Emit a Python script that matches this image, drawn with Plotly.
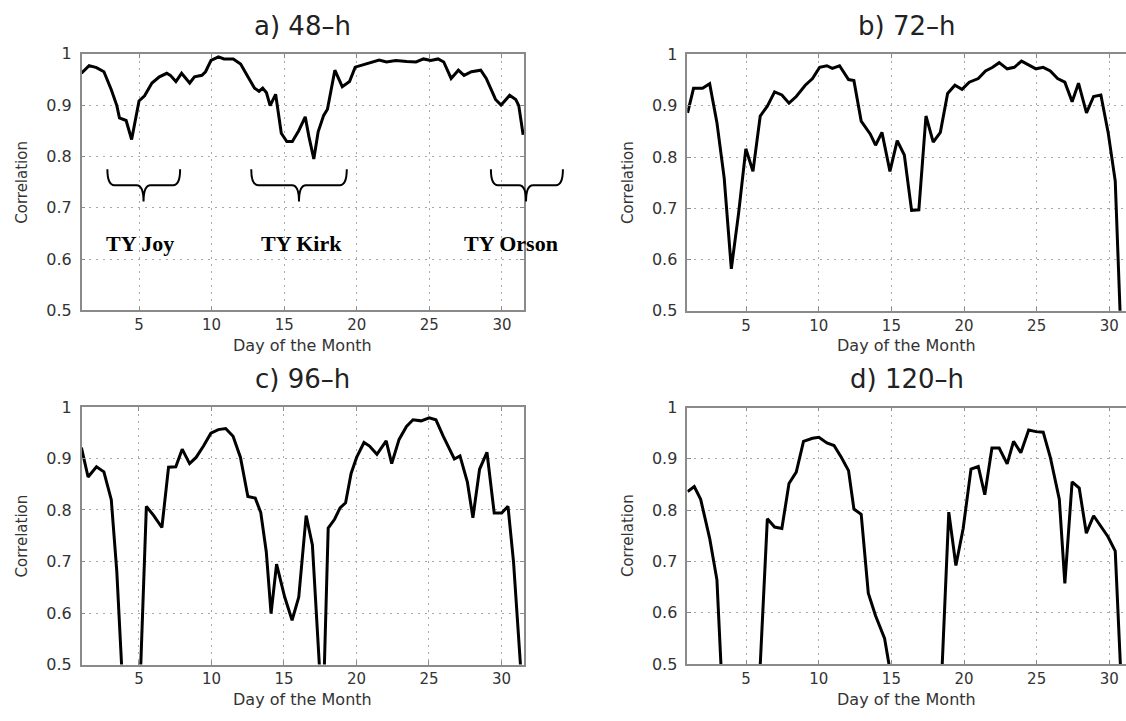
import plotly.graph_objects as go

W, H = 1126, 721

# ---------------- data ----------------
days_a = [1.03, 1.56, 2.07, 2.58, 3.09, 3.47, 3.65, 4.11, 4.49, 5.0, 5.38, 5.89, 6.4, 6.91, 7.16,
          7.54, 7.93, 8.49, 8.82, 9.33, 9.58, 9.96, 10.47, 10.85, 11.49, 12.0, 12.51, 12.96, 13.27,
          13.52, 13.78, 14.03, 14.41, 14.8, 15.18, 15.56, 16.0, 16.45, 16.7, 17.04, 17.34, 17.72,
          17.98, 18.49, 19.0, 19.5, 19.89, 20.52, 21.16, 21.54, 22.05, 22.69, 23.45, 24.08, 24.6,
          25.1, 25.6, 25.99, 26.5, 27.0, 27.39, 27.9, 28.54, 28.92, 29.56, 29.94, 30.19, 30.53,
          30.95, 31.16, 31.46]
corr_a = [0.962, 0.977, 0.973, 0.965, 0.930, 0.899, 0.875, 0.870, 0.833, 0.908, 0.918, 0.943, 0.955,
          0.962, 0.958, 0.946, 0.962, 0.943, 0.955, 0.958, 0.965, 0.987, 0.994, 0.990, 0.990, 0.980,
          0.955, 0.933, 0.927, 0.933, 0.924, 0.899, 0.921, 0.845, 0.829, 0.829, 0.850, 0.877, 0.839,
          0.795, 0.848, 0.880, 0.892, 0.968, 0.936, 0.946, 0.974, 0.979, 0.984, 0.988, 0.984, 0.987,
          0.985, 0.984, 0.990, 0.987, 0.990, 0.984, 0.952, 0.968, 0.958, 0.965, 0.968, 0.952, 0.911,
          0.900, 0.908, 0.919, 0.911, 0.899, 0.842]

days_b = [0.97, 1.38, 2.0, 2.49, 2.99, 3.49, 3.98, 4.48, 4.98, 5.47, 5.97, 6.46, 6.96, 7.46, 7.95,
          8.45, 9.07, 9.57, 10.06, 10.56, 10.93, 11.43, 12.05, 12.42, 12.92, 13.54, 13.91, 14.35,
          14.9, 15.4, 15.89, 16.39, 16.89, 17.38, 17.88, 18.37, 18.87, 19.37, 19.86, 20.36, 20.98,
          21.48, 21.97, 22.42, 22.97, 23.46, 23.96, 24.45, 24.95, 25.45, 25.94, 26.44, 26.94, 27.44,
          27.88, 28.43, 28.92, 29.42, 29.92, 30.41, 30.71, 31.0]
corr_b = [0.886, 0.934, 0.934, 0.943, 0.867, 0.759, 0.582, 0.690, 0.816, 0.772, 0.880, 0.899, 0.927,
          0.921, 0.905, 0.918, 0.940, 0.953, 0.975, 0.978, 0.973, 0.978, 0.951, 0.949, 0.870, 0.845,
          0.823, 0.848, 0.772, 0.832, 0.804, 0.696, 0.697, 0.880, 0.829, 0.848, 0.924, 0.940, 0.932,
          0.946, 0.953, 0.968, 0.975, 0.984, 0.972, 0.975, 0.987, 0.980, 0.972, 0.975, 0.968, 0.953,
          0.946, 0.908, 0.944, 0.886, 0.918, 0.921, 0.848, 0.753, 0.500, 0.300]

days_c = [1.03, 1.49, 2.07, 2.58, 3.09, 3.47, 4.0, 5.0, 5.51, 6.02, 6.58, 7.04, 7.54, 7.98, 8.49,
          8.94, 9.45, 9.96, 10.47, 10.98, 11.49, 12.0, 12.51, 13.02, 13.4, 13.78, 14.11, 14.49,
          15.05, 15.56, 16.02, 16.53, 16.96, 17.5, 17.75, 18.05, 18.49, 18.87, 19.25, 19.63, 20.01,
          20.52, 20.9, 21.41, 22.05, 22.43, 22.94, 23.45, 23.9, 24.46, 25.02, 25.48, 25.99, 26.37,
          26.75, 27.14, 27.65, 28.03, 28.49, 29.0, 29.5, 30.01, 30.45, 30.83, 31.5]
corr_c = [0.921, 0.864, 0.884, 0.874, 0.820, 0.681, 0.390, 0.400, 0.807, 0.789, 0.766, 0.883, 0.884,
          0.918, 0.890, 0.902, 0.924, 0.949, 0.956, 0.958, 0.943, 0.902, 0.826, 0.823, 0.795, 0.719,
          0.599, 0.695, 0.631, 0.586, 0.631, 0.789, 0.732, 0.470, 0.460, 0.765, 0.782, 0.804, 0.814,
          0.871, 0.902, 0.931, 0.924, 0.908, 0.934, 0.890, 0.937, 0.962, 0.975, 0.973, 0.979, 0.975,
          0.943, 0.921, 0.899, 0.905, 0.854, 0.785, 0.879, 0.912, 0.794, 0.794, 0.807, 0.700, 0.420]

days_d = [0.97, 1.43, 1.87, 2.49, 2.99, 3.36, 3.6, 5.75, 5.97, 6.46, 6.96, 7.46, 7.95, 8.45, 8.95,
          9.57, 10.01, 10.56, 11.05, 11.55, 12.05, 12.42, 12.92, 13.41, 13.91, 14.53, 14.83, 15.0,
          18.25, 18.5, 18.95, 19.44, 19.94, 20.48, 20.98, 21.43, 21.92, 22.42, 22.97, 23.41, 23.91,
          24.45, 24.95, 25.45, 25.94, 26.56, 26.94, 27.44, 27.93, 28.42, 28.92, 29.42, 29.91, 30.41,
          30.78, 31.0]
corr_d = [0.836, 0.846, 0.821, 0.745, 0.664, 0.500, 0.300, 0.370, 0.500, 0.783, 0.767, 0.764, 0.852,
          0.874, 0.934, 0.940, 0.942, 0.931, 0.926, 0.903, 0.877, 0.802, 0.792, 0.638, 0.594, 0.550,
          0.500, 0.450, 0.300, 0.500, 0.796, 0.692, 0.764, 0.880, 0.885, 0.830, 0.921, 0.921, 0.890,
          0.934, 0.912, 0.956, 0.953, 0.952, 0.903, 0.821, 0.657, 0.855, 0.843, 0.755, 0.789, 0.767,
          0.748, 0.720, 0.500, 0.350]

panel_titles = ["a) 48\u2013h", "b) 72\u2013h", "c) 96\u2013h", "d) 120\u2013h"]
x_tickvals = [5, 10, 15, 20, 25, 30]
y_tickvals = [0.5, 0.6, 0.7, 0.8, 0.9, 1.0]
y_ticktext = ["0.5", "0.6", "0.7", "0.8", "0.9", "1"]
x_label = "Day of the Month"
y_label = "Correlation"

storm_names = ["TY Joy", "TY Kirk", "TY Orson"]
storm_label_days = [5.05, 16.16, 30.6]
storm_label_corr = 0.63
brace_start = [2.82, 12.73, 29.24]
brace_mid = [5.31, 16.02, 31.66]
brace_end = [7.83, 19.31, 34.2]
brace_top, brace_line, brace_tip = 0.775, 0.744, 0.712

# ---------------- layout geometry (pixels) ----------------
# (left, right, top, bottom), x range
geom = [
    ((81.7, 524.0, 46.0, 309.5), (1.05, 31.52)),
    ((687.3, 1126.0, 46.7, 310.0), (0.95, 31.15)),
    ((81.7, 523.5, 408.7, 673.3), (1.05, 31.52)),
    ((687.3, 1126.0, 409.3, 672.7), (0.95, 31.15)),
]
series = [(days_a, corr_a), (days_b, corr_b), (days_c, corr_c), (days_d, corr_d)]

FONT = "DejaVu Sans"
TXT = "#333333"
FRAME = "#8a8a8a"

fig = go.Figure()
layout = dict(width=W, height=H, margin=dict(l=0, r=0, t=0, b=0),
              paper_bgcolor="white", plot_bgcolor="white", showlegend=False)
annotations = []
shapes = []

for i, ((d, c), ((L, R, T, B), xr)) in enumerate(zip(series, geom)):
    k = "" if i == 0 else str(i + 1)
    fig.add_trace(go.Scatter(x=d, y=c, mode="lines", line=dict(color="black", width=3),
                             xaxis="x" + k, yaxis="y" + k, hoverinfo="skip"))
    left_col = i in (0, 2)
    layout["xaxis" + k] = dict(
        domain=[L / W, R / W], anchor="y" + k, range=list(xr),
        tickvals=x_tickvals, ticks="inside", ticklen=4, tickcolor=FRAME,
        showline=True, linecolor=FRAME, linewidth=1.5, mirror="ticks",
        showgrid=True, gridcolor="#a8a8a8", griddash="2px,5px", gridwidth=1.2,
        zeroline=False, ticklabelstandoff=0,
        tickfont=dict(family=FONT, size=15, color=TXT))
    layout["yaxis" + k] = dict(
        domain=[1 - B / H, 1 - T / H], anchor="x" + k, range=[0.5, 1.0],
        tickvals=y_tickvals, ticktext=y_ticktext, ticks="inside", ticklen=4, tickcolor=FRAME,
        showline=True, linecolor=FRAME, linewidth=1.5, mirror="ticks" if left_col else False,
        showgrid=True, gridcolor="#a8a8a8", griddash="2px,5px", gridwidth=1.2,
        zeroline=False, ticklabelstandoff=5,
        tickfont=dict(family=FONT, size=16, color=TXT))
    ph = B - T
    pw = R - L
    annotations.append(dict(text=panel_titles[i], xref=f"x{k} domain", yref=f"y{k} domain",
                            x=0.5, y=1 + 29 / ph, xanchor="center", yanchor="middle",
                            showarrow=False, font=dict(family=FONT, size=26, color="#222")))
    annotations.append(dict(text=x_label, xref=f"x{k} domain", yref=f"y{k} domain",
                            x=0.5, y=-36 / ph, xanchor="center", yanchor="middle",
                            showarrow=False, font=dict(family=FONT, size=16, color=TXT)))
    annotations.append(dict(text=y_label, xref=f"x{k} domain", yref=f"y{k} domain",
                            x=-60 / pw, y=0.5, xanchor="center", yanchor="middle", textangle=-90,
                            showarrow=False, font=dict(family=FONT, size=15, color=TXT)))

# ---------------- storm annotations in panel a ----------------
(aL, aR, aT, aB), axr = geom[0]


def day_px(day):
    return aL + (day - axr[0]) / (axr[1] - axr[0]) * (aR - aL)


def corr_px(v):
    return aB - (v - 0.5) / 0.5 * (aB - aT)


def P(xp, yp):
    return f"{xp / W:.5f},{1 - yp / H:.5f}"


wpx = 7.0
for s, m, e in zip(brace_start, brace_mid, brace_end):
    x0, xc, x1 = day_px(s), day_px(m), day_px(e)
    yt, yl, yp = corr_px(brace_top), corr_px(brace_line), corr_px(brace_tip)
    path = (f"M {P(x0, yt)} Q {P(x0, yl)} {P(x0 + wpx, yl)} L {P(xc - wpx, yl)} "
            f"Q {P(xc, yl)} {P(xc, yp)} Q {P(xc, yl)} {P(xc + wpx, yl)} "
            f"L {P(x1 - wpx, yl)} Q {P(x1, yl)} {P(x1, yt)}")
    shapes.append(dict(type="path", path=path, xref="paper", yref="paper",
                       line=dict(color="black", width=2)))

for name, dd in zip(storm_names, storm_label_days):
    annotations.append(dict(text=f"<b>{name}</b>", xref="x", yref="y", x=dd, y=storm_label_corr,
                            xanchor="center", yanchor="middle", showarrow=False,
                            font=dict(family="Liberation Serif", size=22, color="black")))

layout["annotations"] = annotations
layout["shapes"] = shapes
fig.update_layout(**layout)
fig.write_html(
    "out.html",
    config={"displayModeBar": False},
    post_script=("document.body.style.margin='0px';document.body.style.padding='0px';"
                 "document.documentElement.style.overflow='hidden';"),
)
